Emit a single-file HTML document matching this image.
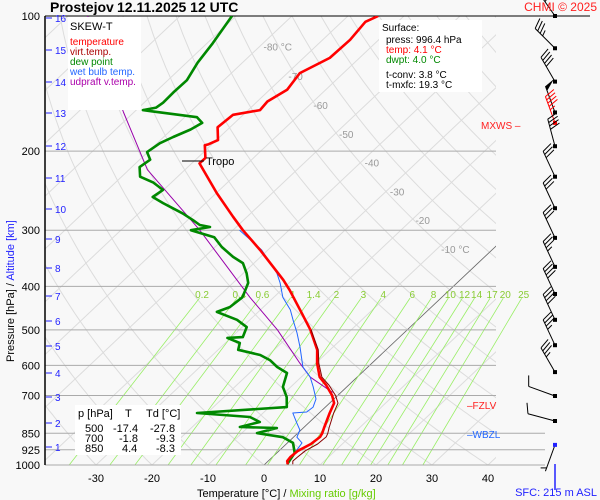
<!DOCTYPE html>
<html><head><meta charset="utf-8"><style>
html,body{margin:0;padding:0;background:#f8f8f8;}
svg{display:block;font-family:"Liberation Sans",Arial,sans-serif;}
</style></head><body>
<svg id="chart" width="600" height="500" viewBox="0 0 600 500">
<defs>
<clipPath id="plotclip"><rect x="45" y="16" width="451" height="449"/></clipPath>
<clipPath id="mixclip"><rect x="45" y="16" width="500" height="449"/></clipPath>
</defs>
<rect x="0" y="0" width="600" height="500" fill="#f8f8f8"/>
<g id="bg" clip-path="url(#plotclip)"></g>
<g id="mix" clip-path="url(#mixclip)"></g>
<g id="hlines"></g>
<g id="series" clip-path="url(#plotclip)"></g>
<g id="wind"></g>
<g id="axes"></g>

<text x="50" y="12" font-size="14" font-weight="bold">Prostejov<tspan x="117">12.11.2025 12 UTC</tspan></text>
<text x="597" y="11" font-size="12" fill="#ff2020" text-anchor="end">CHMI © 2025</text>

<g>
<rect x="68" y="17" width="73" height="93" fill="#ffffff"/>
<text x="70" y="30" font-size="11" fill="#000">SKEW-T</text>
<text x="70" y="45" font-size="10" fill="#ff0000">temperature</text>
<text x="70" y="55" font-size="10" fill="#aa0000">virt.temp.</text>
<text x="70" y="65" font-size="10" fill="#008800">dew point</text>
<text x="70" y="75" font-size="10" fill="#2266ff">wet bulb temp.</text>
<text x="70" y="85" font-size="10" fill="#aa00aa">udpraft v.temp.</text>
</g>

<g>
<rect x="379" y="20" width="103" height="72" fill="#ffffff"/>
<text x="382" y="31" font-size="10">Surface:</text>
<text x="386" y="43" font-size="10">press: 996.4 hPa</text>
<text x="386" y="53" font-size="10" fill="#ff0000">temp: 4.1 °C</text>
<text x="386" y="63" font-size="10" fill="#008800">dwpt: 4.0 °C</text>
<text x="386" y="78" font-size="10">t-conv: 3.8 °C</text>
<text x="386" y="88" font-size="10">t-mxfc: 19.3 °C</text>
</g>

<g>
<rect x="75" y="405" width="106" height="50" fill="#ffffff"/>
<text x="78" y="417" font-size="11">p [hPa]</text>
<text x="125" y="417" font-size="11">T</text>
<text x="146" y="417" font-size="11">Td [°C]</text>
<text x="85" y="432" font-size="11">500  <tspan x="113">-17.4</tspan><tspan x="150">-27.8</tspan></text>
<text x="85" y="442" font-size="11">700  <tspan x="119">-1.8</tspan><tspan x="156">-9.3</tspan></text>
<text x="85" y="452" font-size="11">850  <tspan x="122">4.4</tspan><tspan x="156">-8.3</tspan></text>
</g>

<g>
<line x1="182" y1="161" x2="204" y2="161" stroke="#000" stroke-width="1"/>
<text x="206" y="165" font-size="11">Tropo</text>
</g>
<text x="481" y="129" font-size="10" fill="#ff2020">MXWS –</text>
<text x="467" y="409" font-size="10" fill="#ff2020">–FZLV</text>
<text x="467" y="438" font-size="10" fill="#2266ff">–WBZL</text>
<line x1="555" y1="464" x2="555" y2="490" stroke="#2222ff" stroke-width="1.5"/>
<text x="597" y="496" font-size="11" fill="#2222ff" text-anchor="end">SFC: 215 m ASL</text>

<text x="197" y="497" font-size="11">Temperature [°C]  /  <tspan fill="#66cc00">Mixing ratio [g/kg]</tspan></text>
<text transform="translate(14,362) rotate(-90)" font-size="11">Pressure [hPa]  /  <tspan fill="#2222ff">Altitude [km]</tspan></text>

<script>
// ---------- data ----------
const tempP = [100,103,113,124,134,146,155,162,166,177,189,193,194,207,213,248,280,300,332,387,408,459,500,554,593,637,663,700,728,766,827,850,866,898,930,960,980,996];
const tempT = [-64.6,-65.8,-65.1,-65.3,-67.8,-66.9,-68.2,-67.9,-71.8,-72.2,-69.7,-70.6,-71.1,-68.6,-68.6,-59.9,-52.5,-48.2,-41.4,-31.6,-28.5,-22,-17.3,-12.3,-9.8,-6.7,-4.1,-1.0,0.8,1.9,3.7,4.4,4.7,4.4,3.4,3.2,3.4,4.1];
const virtP = [500,554,593,637,663,700,728,766,827,850,866,898,930,960,980,996];
const virtT = [-17.2,-12.1,-9.5,-6.3,-3.6,-0.4,1.5,2.6,4.6,5.4,5.8,5.6,4.7,4.5,4.4,5.0];
const dewP = [100,115,127,139,148,156,160,162,163,168,173,179,186,192,201,209,217,228,235,244,253,261,268,275,285,292,295,300,311,327,344,355,374,393,423,445,456,475,493,519,521,535,554,569,584,605,624,670,706,743,766,782,802,823,827,849,867,893,940,996];
const dewT = [-90.7,-89,-88,-86.6,-86.7,-86.6,-86.9,-88.8,-87,-77.8,-75.8,-76.6,-78.3,-79.5,-80.1,-78.1,-78.6,-76.7,-73.2,-70.1,-70.6,-67.6,-64.9,-62.2,-59,-56.9,-54.7,-57.5,-52,-48.8,-44.9,-42,-39.4,-37.3,-35.6,-36,-37.4,-32.3,-29.2,-28,-30.6,-27.4,-26.4,-21.5,-18.8,-16.2,-13.3,-11.4,-8.8,-6.9,-21.8,-11.6,-8.9,-11.5,-4.7,-7.3,-1.9,1.0,3.2,4.0];
const wetP = [300,332,374,393,423,451,475,508,546,605,637,670,713,743,762,766,806,836,867,893,940,996];
const wetT = [-48.8,-41.1,-34,-31.6,-28.4,-24.7,-22.3,-19.1,-15.9,-11.6,-8.4,-6,-3.2,-2.2,-2.4,-4.7,-2.1,-0.2,0.6,2.6,3.2,4.0];
const parcelP = [100,164,220,300,423,500,593,637,689];
const parcelT = [-116.5,-91.8,-76.7,-55.9,-34.3,-23.2,-12.9,-8.4,-1.5];
const windP = [100,118,140,164,173,195,228,268,312,362,416,475,541,621,702,798,902];
const windSpd = [35,35,40,50,45,40,30,30,30,35,40,40,35,35,10,10,5];
const windDir = [325,315,330,340,340,345,335,335,335,335,335,335,335,330,290,285,200];
const pressTicks = [100,200,300,400,500,600,700,850,925,1000];
const altKm = [16,15,14,13,12,11,10,9,8,7,6,5,4,3,2,1];
const altY = [18,50,82,113,146,178,209,239,268,296,321,346,373,397,423,447];
const tempTicks = [-30,-20,-10,0,10,20,30,40];
const mixRatios = [0.2,0.4,0.6,1,1.4,2,3,4,6,8,10,12,14,17,20,25];
const isoLabels = [-80,-70,-60,-50,-40,-30,-20,-10];

// ---------- scales ----------
function yP(p){return 16 + 449*Math.log10(p/100);}
function xT(T,p){return 264 + 5.6*T + 1.06*(465 - yP(p));}
const NS="http://www.w3.org/2000/svg";
function mk(tag,attrs,parent){const e=document.createElementNS(NS,tag);for(const k in attrs)e.setAttribute(k,attrs[k]);parent.appendChild(e);return e;}
const bg=document.getElementById('bg'), mx=document.getElementById('mix'), hl=document.getElementById('hlines'), se=document.getElementById('series'), wg=document.getElementById('wind'), ax=document.getElementById('axes');

for(let T=-130;T<=50;T+=10){
  const l=mk('line',{x1:xT(T,1050),y1:yP(1050),x2:xT(T,100),y2:yP(100),stroke:'#dcdcdc','stroke-width':1},bg);
  
  
}
for(let th=-40;th<=200;th+=10){
  let pts=[];
  for(let p=1050;p>=100;p-=10){const T=(th+273.15)*Math.pow(p/1000,0.286)-273.15;pts.push(xT(T,p).toFixed(1)+','+yP(p).toFixed(1));}
  const pl=mk('polyline',{points:pts.join(' '),fill:'none',stroke:'#dcdcdc','stroke-width':1},bg);
  
  
}
{const l=mk('line',{x1:xT(0,1000),y1:yP(1000),x2:xT(0,318),y2:yP(318),stroke:'#666','stroke-width':0.8},bg);

}
function tdFromW(w,p){const e=w*p/(622+w);const a=Math.log(e/6.112);return 243.5*a/(17.67-a);}
mixRatios.forEach(w=>{
  const pTop=425;
  const l=mk('line',{x1:xT(tdFromW(w,1000),1000),y1:yP(1000),x2:xT(tdFromW(w,pTop),pTop),y2:yP(pTop),stroke:'#99ee66','stroke-width':0.8},mx);
  
  
  const t=mk('text',{x:xT(tdFromW(w,418),418),y:298,'font-size':10,fill:'#88cc33','text-anchor':'middle'},mx);
  t.textContent=String(w);
  
  
});
isoLabels.forEach((T,i)=>{
  const p=[117,136,158,183,212,246,285,330][i];
  const t=mk('text',{x:xT(T,p)+4,y:yP(p)+4,'font-size':10,fill:'#999'},bg);
  t.textContent=(T===-80||T===-10)?T+' °C':String(T);
  
  
});

pressTicks.forEach(p=>{
  const y=yP(p);
  const x2=(p===100)?590:(p>=850?545:496);
  const l=mk('line',{x1:45,y1:y,x2:x2,y2:y,stroke:p===100?'#000':'#aaa','stroke-width':1},hl);
  
  
  const t=mk('text',{x:40,y:y+4,'font-size':11,'text-anchor':'end'},ax);
  t.textContent=String(p);
  
  
});
{const l=mk('line',{x1:45,y1:16,x2:45,y2:465,stroke:'#000','stroke-width':1.5},ax);

}
altKm.forEach((k,i)=>{
  const l=mk('line',{x1:46,y1:altY[i],x2:52,y2:altY[i],stroke:'#2222ff','stroke-width':1},ax);
  
  
  const t=mk('text',{x:55,y:altY[i]+4,'font-size':10,fill:'#2222ff'},ax);
  t.textContent=String(k);
  
  
});
tempTicks.forEach(T=>{
  const t=mk('text',{x:xT(T,1000),y:482,'font-size':11,'text-anchor':'middle'},ax);
  t.textContent=String(T);
  
  
});

function line(P,T,color,w,name){
  const pts=P.map((p,i)=>xT(T[i],p).toFixed(1)+','+yP(p).toFixed(1)).join(' ');
  const pl=mk('polyline',{points:pts,fill:'none',stroke:color,'stroke-width':w,'stroke-linejoin':'round'},se);
  
  
}
line(parcelP,parcelT,'#9900aa',1,'updraft-line');
line(wetP,wetT,'#2266ff',1,'wet-bulb-line');
line(dewP,dewT,'#008800',2.6,'dew-point-line');
line(tempP,tempT,'#ff0000',2.6,'temperature-line');
line(virtP,virtT,'#880000',1,'virtual-temperature-line');

windP.forEach((p,i)=>{
  const x=555,y=yP(p);
  const red=(p===173);
  const col=red?'#ff0000':'#000';
  const a=windDir[i]*Math.PI/180, L=28;
  const ux=Math.sin(a), uy=-Math.cos(a);
  const tx=x+ux*L, ty=y+uy*L;
  const g=mk('g',{},wg);
  
  
  mk('line',{x1:x,y1:y,x2:tx,y2:ty,stroke:col,'stroke-width':1},g);
  mk('rect',{x:x-2,y:y-2,width:4,height:4,fill:(i===windP.length-1)?'#2222ff':col},g);
  const th=70*Math.PI/180;
  const bx=ux*Math.cos(th)-uy*Math.sin(th), by=ux*Math.sin(th)+uy*Math.cos(th);
  let s=windSpd[i], pos=0;
  while(s>=50){const px=tx-ux*pos,py=ty-uy*pos;
    mk('polygon',{points:`${px},${py} ${px+bx*11},${py+by*11} ${px-ux*5},${py-uy*5}`,fill:col},g);pos+=7;s-=50;}
  while(s>=10){const px=tx-ux*pos,py=ty-uy*pos;
    mk('line',{x1:px,y1:py,x2:px+bx*11,y2:py+by*11,stroke:col,'stroke-width':1},g);pos+=3.5;s-=10;}
  if(s>=5){if(pos===0)pos=3.5;const px=tx-ux*pos,py=ty-uy*pos;
    mk('line',{x1:px,y1:py,x2:px+bx*6,y2:py+by*6,stroke:col,'stroke-width':1},g);}
});
</script>
</svg>
</body></html>
